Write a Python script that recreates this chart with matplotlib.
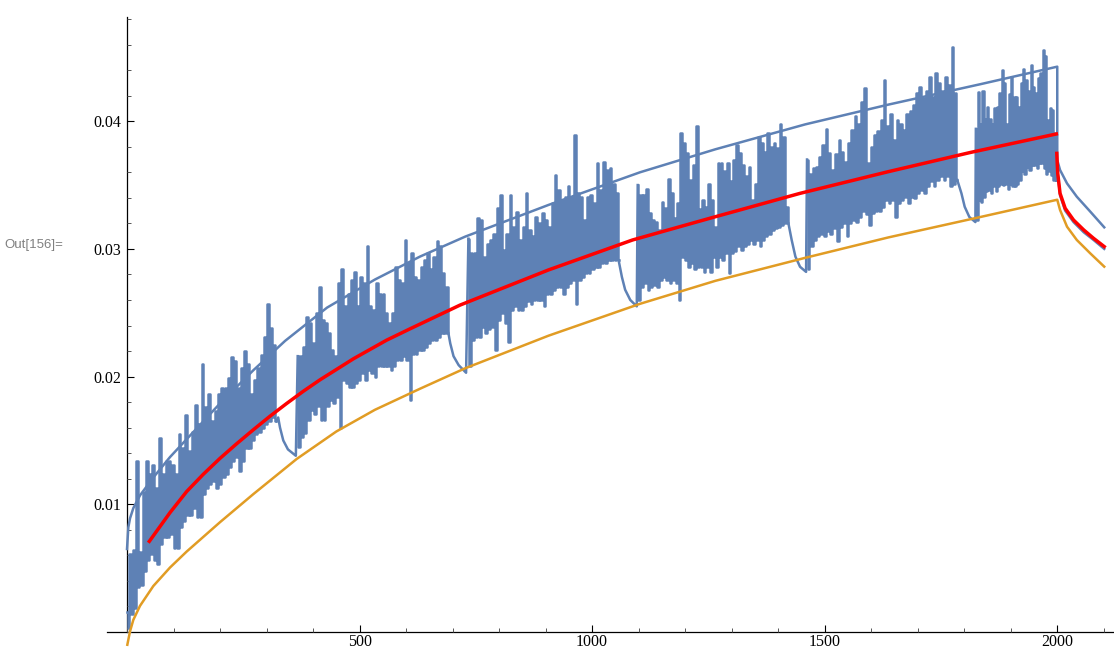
import numpy as np
import matplotlib.pyplot as plt
from matplotlib.ticker import MultipleLocator, FixedLocator

# all y values are in units of 1e-3
Y_UNIT = 1e-3

# noisy series: one block per cycle, x range of the block plus peaks and troughs read left to right
seg_x = [(0, 321), (367, 691), (734, 1057), (1098, 1422), (1462, 1785), (1825, 1998)]
seg_hi = [
    [1.6, 6.1, 6.4, 13.4, 6.3, 11.0, 13.4, 12.4, 13.1, 11.3, 15.2, 12.4, 13.4, 13.4, 13.1, 12.4,
     15.5, 14.4, 17.0, 14.2, 15.7, 17.8, 16.3, 21.0, 17.6, 18.6, 16.5, 17.3, 18.6, 19.1, 19.1,
     19.9, 21.5, 21.2, 19.1, 20.7, 22.0, 21.0, 18.6, 19.7, 20.7, 21.7, 23.1, 25.7, 23.8, 22.5],
    [21.6, 21.6, 22.3, 24.7, 24.2, 22.6, 25.0, 27.0, 24.4, 24.2, 23.4, 22.1, 21.6, 27.3, 28.4, 25.5,
     26.5, 27.6, 28.2, 25.5, 27.8, 27.3, 30.2, 25.5, 25.2, 27.3, 26.5, 26.5, 25.0, 24.2, 25.0, 28.6,
     27.6, 27.3, 30.7, 28.9, 29.7, 27.8, 27.6, 28.6, 29.1, 29.7, 28.4, 29.4, 30.6, 30.2, 28.1, 27.0],
    [30.8, 29.7, 29.7, 32.4, 32.3, 29.4, 30.4, 30.7, 31.2, 33.2, 34.2, 29.9, 31.2, 34.2, 31.7, 32.9,
     30.7, 31.7, 34.4, 31.5, 31.0, 32.5, 32.0, 32.8, 32.3, 31.7, 33.6, 35.8, 34.6, 33.8, 34.1, 34.9,
     34.1, 38.9, 34.4, 34.1, 32.3, 34.1, 34.2, 33.6, 36.7, 34.6, 36.8, 36.2, 36.3, 35.1, 34.4],
    [35.0, 34.2, 34.2, 34.7, 32.8, 32.3, 32.1, 31.5, 33.7, 33.2, 35.5, 34.4, 32.4, 33.6, 39.1, 38.3,
     37.5, 35.4, 36.6, 39.6, 33.1, 33.8, 33.3, 35.1, 33.8, 31.7, 36.7, 36.7, 36.1, 36.7, 35.3, 37.0,
     38.1, 37.5, 36.6, 35.7, 36.4, 33.8, 35.1, 38.8, 38.3, 37.6, 39.1, 38.0, 38.3, 37.9, 39.8, 38.8, 33.3],
    [37.0, 35.9, 36.3, 36.4, 37.2, 38.1, 39.4, 37.5, 36.2, 37.4, 38.5, 37.6, 36.8, 38.3, 39.3, 40.4,
     39.8, 41.5, 42.6, 36.7, 38.0, 38.9, 39.2, 40.1, 43.2, 39.6, 40.6, 38.5, 40.1, 39.8, 39.3, 40.6,
     40.8, 41.3, 42.2, 42.7, 41.8, 42.4, 43.5, 41.9, 43.8, 43.0, 42.4, 43.5, 42.8, 45.8, 42.2],
    [39.4, 42.3, 39.8, 42.4, 40.2, 41.1, 40.2, 39.8, 41.0, 41.1, 42.2, 44.0, 43.0, 39.8, 42.1, 43.5,
     41.9, 41.9, 41.1, 43.0, 44.1, 43.2, 42.4, 44.4, 42.7, 42.2, 43.4, 43.8, 45.6, 45.1, 40.1, 41.0,
     40.9, 39.1],
]
seg_lo = [
    [0.3, 1.4, 1.9, 3.5, 3.7, 4.8, 5.6, 6.1, 5.6, 5.3, 6.9, 7.4, 7.4, 7.7, 6.6, 6.6, 8.2, 8.7, 9.2,
     9.2, 9.7, 9.0, 9.0, 10.8, 11.3, 11.6, 11.8, 11.3, 11.6, 12.1, 12.4, 12.9, 13.4, 13.7, 12.6,
     13.4, 14.4, 14.4, 15.0, 15.5, 15.7, 16.0, 16.3, 16.5, 16.8, 16.5],
    [14.5, 15.3, 15.6, 16.6, 17.4, 17.1, 17.7, 16.6, 16.6, 17.7, 18.2, 17.9, 18.4, 16.0, 19.7, 19.5,
     19.2, 19.2, 19.5, 19.7, 20.3, 19.7, 20.5, 20.3, 20.0, 20.8, 20.8, 20.8, 20.8, 20.5, 20.8, 21.3,
     21.3, 21.6, 21.3, 18.2, 21.8, 21.8, 22.1, 22.1, 22.3, 22.6, 22.9, 22.9, 23.1, 23.4, 23.4, 23.4],
    [20.8, 22.9, 23.1, 23.1, 23.9, 23.4, 23.7, 23.9, 22.1, 24.4, 25.0, 24.2, 22.7, 25.2, 25.5, 25.2,
     25.2, 25.5, 25.9, 25.7, 26.0, 26.0, 26.0, 25.5, 26.5, 26.5, 26.8, 27.0, 27.0, 26.5, 27.0, 27.3,
     27.6, 25.7, 27.6, 27.8, 28.1, 28.1, 28.4, 28.6, 28.6, 28.9, 28.9, 29.1, 29.1, 29.1, 29.1],
    [26.0, 27.0, 27.3, 26.8, 27.0, 27.2, 27.0, 27.6, 27.8, 27.6, 27.3, 27.6, 27.3, 26.0, 29.4, 29.1,
     28.6, 28.9, 28.4, 28.6, 28.6, 28.2, 28.6, 28.2, 29.4, 28.6, 29.4, 29.1, 29.7, 28.1, 29.7, 29.8,
     30.2, 29.9, 30.2, 30.4, 30.7, 30.4, 30.7, 30.2, 30.7, 31.0, 31.2, 31.5, 31.6, 31.7, 31.9, 32.0, 32.0],
    [28.4, 30.2, 30.7, 31.0, 31.2, 31.0, 31.4, 31.2, 31.6, 30.6, 31.7, 32.0, 31.0, 32.0, 32.3, 32.1,
     32.5, 33.0, 32.7, 31.9, 32.8, 33.0, 33.0, 33.3, 33.8, 33.6, 33.8, 32.5, 33.6, 33.8, 34.1, 33.6,
     34.1, 34.0, 34.4, 34.6, 34.4, 34.9, 35.3, 34.9, 35.4, 35.7, 35.4, 35.7, 34.9, 35.1, 35.4],
    [32.3, 33.8, 33.7, 34.1, 34.5, 34.6, 34.4, 34.9, 34.5, 34.9, 35.1, 35.0, 35.1, 34.7, 35.1, 34.9,
     34.9, 35.1, 35.4, 36.1, 35.9, 36.4, 36.2, 36.6, 36.6, 36.3, 36.7, 36.7, 36.3, 35.9, 36.1, 35.8,
     35.4, 35.4],
]
# smooth relaxation after each block (the last one is the tail past 2000)
decay_x = [
    [325, 329, 336, 346, 363],
    [695, 702, 713, 729],
    [1064, 1071, 1082, 1096],
    [1429, 1437, 1447, 1460],
    [1794, 1801, 1811, 1824],
    [2000, 2002, 2006, 2017, 2035, 2057, 2078, 2101],
]
decay_y = [
    [16.8, 16.0, 15.0, 14.3, 13.8],
    [22.6, 21.6, 20.9, 20.3],
    [27.8, 26.8, 26.0, 25.5],
    [30.7, 29.4, 28.6, 28.2],
    [34.35, 33.3, 32.5, 32.1],
    [36.0, 35.6, 34.2, 33.0, 32.1, 31.3, 30.7, 30.0],
]

# upper envelope
env_x = [0, 2.9, 6.5, 13.6, 28, 56.6, 92.5, 128.3, 200, 271.7, 340, 430, 533, 630, 727, 906,
         1103, 1265, 1458, 1637, 1835, 2000, 2000, 2006, 2021, 2042, 2071, 2101]
env_y = [6.5, 8.2, 8.9, 9.7, 10.7, 12.1, 13.7, 15.1, 17.9, 20.5, 22.8, 25.4, 27.6, 29.4, 30.96,
         33.44, 36.0, 37.8, 39.75, 41.3, 42.9, 44.27, 36.96, 36.18, 35.13, 34.09, 32.92, 31.69]

# lower (orange) curve
low_x = [0.7, 6.5, 13.6, 28, 56.6, 92.5, 128.3, 200, 271.7, 364.8, 450, 533, 630, 727, 906,
         1103, 1265, 1458, 1637, 1835, 2000, 2006, 2021, 2042, 2071, 2101]
low_y = [-1.0, 0.05, 0.95, 2.05, 3.6, 5.05, 6.3, 8.6, 10.8, 13.55, 15.7, 17.4, 19.05, 20.65, 23.2,
         25.7, 27.5, 29.3, 30.9, 32.5, 33.85, 33.05, 31.74, 30.70, 29.65, 28.61]

# mean (red) curve and its tail
mean_x = [48, 92.5, 128.3, 164, 200, 236, 272, 307.5, 343.4, 379, 415, 487, 558, 609, 716, 906,
          1087, 1265, 1447, 1637, 1813, 1998]
mean_y = [7.1, 9.35, 11.0, 12.35, 13.6, 14.75, 15.85, 16.9, 17.9, 18.85, 19.75, 21.4, 22.85,
          23.75, 25.6, 28.35, 30.7, 32.52, 34.35, 36.05, 37.55, 39.0]
tail_x = [1999, 2001, 2006, 2017, 2035, 2057, 2078, 2101]
tail_y = [37.48, 35.92, 34.35, 33.18, 32.26, 31.48, 30.83, 30.18]

BLUE = '#5E81B5'
ORANGE = '#E19C24'
RED = '#FF0000'

fig = plt.figure(figsize=(11.14, 6.5), dpi=100)
ax = fig.add_axes([107 / 1114, 0, 1007 / 1114, 633 / 650])

# noisy blocks drawn as steps (peak, trough, peak, ...) then the relaxation curve
for i, ((x0, x1), hi, lo) in enumerate(zip(seg_x, seg_hi, seg_lo)):
    n = len(hi)
    xs = np.linspace(x0, x1, 2 * n)
    ys = np.empty(2 * n)
    ys[0::2] = hi
    ys[1::2] = lo
    ax.plot(xs, ys * Y_UNIT, color=BLUE, lw=1.8, drawstyle='steps-mid')
    dx = [xs[-1]] + decay_x[i]
    dy = [ys[-1]] + decay_y[i]
    if i + 1 < len(seg_x):
        dx.append(seg_x[i + 1][0])
        dy.append(seg_hi[i + 1][0])
    ax.plot(dx, np.array(dy) * Y_UNIT, color=BLUE, lw=1.8)

ax.plot(env_x, np.array(env_y) * Y_UNIT, color=BLUE, lw=1.8)
ax.plot(low_x, np.array(low_y) * Y_UNIT, color=ORANGE, lw=1.8)
ax.plot(mean_x, np.array(mean_y) * Y_UNIT, color=RED, lw=2.5)
ax.plot(tail_x, np.array(tail_y) * Y_UNIT, color=RED, lw=2.5)

ax.set_xlim(-43, 2122)
ax.set_ylim(-0.00141, 0.04816)

for s in ['top', 'right']:
    ax.spines[s].set_visible(False)
ax.spines['left'].set_position(('data', 0))
ax.spines['bottom'].set_position(('data', 0))
ax.spines['left'].set_bounds(0, 0.04816)
for s in ['left', 'bottom']:
    ax.spines[s].set_linewidth(0.9)
    ax.spines[s].set_zorder(1)

ax.xaxis.set_major_locator(FixedLocator([500, 1000, 1500, 2000]))
ax.xaxis.set_minor_locator(MultipleLocator(100))
ax.yaxis.set_major_locator(FixedLocator([0.01, 0.02, 0.03, 0.04]))
ax.yaxis.set_minor_locator(MultipleLocator(0.002))
ax.set_yticklabels(['0.01', '0.02', '0.03', '0.04'])
ax.set_xticklabels(['500', '1000', '1500', '2000'])

ax.tick_params(which='major', direction='in', length=5, width=0.8, pad=4,
               labelsize=11.5, labelfontfamily='Liberation Serif')
ax.tick_params(axis='x', which='major', pad=1.5)
ax.tick_params(which='minor', direction='in', length=3, width=0.7, color='#555555')

fig.text(0.004, 1 - 245 / 650, 'Out[156]=', color='#808080', fontsize=9.5,
         family='Liberation Sans', va='center', ha='left')

fig.savefig('out.png', dpi=100)
